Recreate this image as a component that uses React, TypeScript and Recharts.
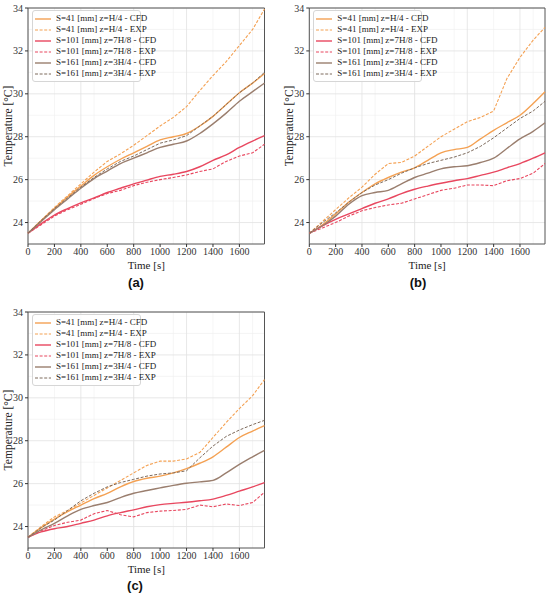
import React from 'react';
import { LineChart, Line, XAxis, YAxis, CartesianGrid, ReferenceArea, Legend } from 'recharts';

const TIME = [0, 100, 200, 300, 400, 500, 600, 700, 800, 900, 1000, 1100, 1200, 1300, 1400, 1500, 1600, 1700, 1790];

// Panel (a)
const A_S41_CFD = [23.5, 24.1, 24.65, 25.2, 25.7, 26.2, 26.6, 26.95, 27.25, 27.55, 27.85, 28.0, 28.15, 28.5, 28.95, 29.5, 30.05, 30.5, 30.95];
const A_S41_EXP = [23.5, 24.1, 24.7, 25.25, 25.8, 26.35, 26.85, 27.2, 27.6, 28.05, 28.5, 28.9, 29.4, 30.15, 30.85, 31.5, 32.25, 33.0, 33.95];
const A_S101_CFD = [23.5, 23.95, 24.35, 24.65, 24.92, 25.15, 25.4, 25.6, 25.8, 25.98, 26.15, 26.25, 26.38, 26.6, 26.9, 27.15, 27.5, 27.8, 28.05];
const A_S101_EXP = [23.5, 23.9, 24.3, 24.6, 24.85, 25.12, 25.35, 25.5, 25.72, 25.88, 26.0, 26.1, 26.22, 26.38, 26.5, 26.85, 27.1, 27.25, 27.65];
const A_S161_CFD = [23.5, 24.05, 24.6, 25.1, 25.6, 26.05, 26.4, 26.75, 27.0, 27.25, 27.5, 27.65, 27.8, 28.15, 28.6, 29.1, 29.65, 30.1, 30.5];
const A_S161_EXP = [23.5, 24.1, 24.65, 25.15, 25.65, 26.1, 26.5, 26.85, 27.1, 27.4, 27.7, 27.85, 28.05, 28.5, 28.95, 29.5, 30.05, 30.5, 31.0];

// Panel (b)
const B_S41_CFD = [23.5, 23.9, 24.4, 24.95, 25.4, 25.8, 26.1, 26.35, 26.55, 26.9, 27.25, 27.4, 27.5, 27.9, 28.3, 28.65, 29.0, 29.55, 30.1];
const B_S41_EXP = [23.5, 24.05, 24.6, 25.15, 25.65, 26.25, 26.75, 26.8, 27.1, 27.55, 28.0, 28.35, 28.7, 28.9, 29.2, 30.7, 31.7, 32.5, 33.1];
const B_S101_CFD = [23.5, 23.85, 24.15, 24.4, 24.65, 24.9, 25.1, 25.35, 25.55, 25.7, 25.83, 25.95, 26.05, 26.2, 26.35, 26.55, 26.75, 27.0, 27.25];
const B_S101_EXP = [23.5, 23.75, 24.0, 24.3, 24.55, 24.7, 24.82, 24.9, 25.1, 25.3, 25.5, 25.6, 25.75, 25.75, 25.72, 25.95, 26.05, 26.3, 26.75];
const B_S161_CFD = [23.5, 23.85, 24.3, 24.85, 25.25, 25.4, 25.5, 25.8, 26.1, 26.3, 26.5, 26.6, 26.65, 26.8, 27.0, 27.45, 27.9, 28.25, 28.65];
const B_S161_EXP = [23.5, 24.0, 24.45, 24.95, 25.4, 25.75, 26.0, 26.3, 26.55, 26.75, 26.9, 27.05, 27.25, 27.55, 27.95, 28.4, 28.85, 29.2, 29.65];

// Panel (c)
const C_S41_CFD = [23.5, 23.95, 24.35, 24.7, 25.0, 25.3, 25.55, 25.85, 26.1, 26.25, 26.35, 26.5, 26.7, 26.95, 27.25, 27.7, 28.15, 28.45, 28.7];
const C_S41_EXP = [23.5, 24.0, 24.45, 24.75, 25.1, 25.45, 25.8, 26.15, 26.5, 26.85, 27.05, 27.05, 27.15, 27.45, 28.15, 28.85, 29.5, 30.1, 30.85];
const C_S101_CFD = [23.5, 23.75, 23.9, 24.0, 24.15, 24.3, 24.5, 24.65, 24.78, 24.92, 25.02, 25.08, 25.13, 25.2, 25.28, 25.45, 25.65, 25.85, 26.05];
const C_S101_EXP = [23.5, 23.8, 24.05, 24.2, 24.3, 24.6, 24.75, 24.55, 24.45, 24.65, 24.72, 24.75, 24.8, 25.0, 24.92, 25.05, 24.98, 25.12, 25.6];
const C_S161_CFD = [23.5, 23.85, 24.15, 24.5, 24.8, 24.98, 25.12, 25.35, 25.55, 25.68, 25.8, 25.92, 26.02, 26.08, 26.15, 26.5, 26.9, 27.25, 27.55];
const C_S161_EXP = [23.5, 23.95, 24.3, 24.75, 25.2, 25.55, 25.85, 26.05, 26.2, 26.35, 26.45, 26.5, 26.6, 27.2, 27.75, 28.2, 28.5, 28.75, 28.95];

const X_TICKS = [0, 200, 400, 600, 800, 1000, 1200, 1400, 1600];
const X_GRID = [100, 200, 300, 400, 500, 600, 700, 800, 900, 1000, 1100, 1200, 1300, 1400, 1500, 1600, 1700];
const Y_TICKS = [24, 26, 28, 30, 32, 34];
const Y_GRID = [24, 25, 26, 27, 28, 29, 30, 31, 32, 33];
const SERIES_NAMES = [
  'S=41 [mm] z=H/4 - CFD',
  'S=41 [mm] z=H/4 - EXP',
  'S=101 [mm] z=7H/8 - CFD',
  'S=101 [mm] z=7H/8 - EXP',
  'S=161 [mm] z=3H/4 - CFD',
  'S=161 [mm] z=3H/4 - EXP',
];

const ORANGE = '#F4A153';
const PINK = '#E8475F';
const BROWN = '#9A7E6E';
const SERIF = '"Liberation Serif", "DejaVu Serif", serif';

const STYLES = [
  { key: 's41cfd', color: ORANGE, dash: undefined, width: 1.4 },
  { key: 's41exp', color: ORANGE, dash: '3 1.6', width: 1.1 },
  { key: 's101cfd', color: PINK, dash: undefined, width: 1.4 },
  { key: 's101exp', color: PINK, dash: '3 1.6', width: 1.1 },
  { key: 's161cfd', color: BROWN, dash: undefined, width: 1.4 },
  { key: 's161exp', color: '#7d6a5c', dash: '3 1.6', width: 1.0 },
];

function buildRows(series: number[][]) {
  return TIME.map((t, i) => {
    const row: Record<string, number> = { t };
    STYLES.forEach((s, k) => {
      row[s.key] = series[k][i];
    });
    return row;
  });
}

const PANELS = [
  { id: 'a', left: 0, top: 0, yAxisW: 28, rightM: 10.5, label: '(a)', labelX: 136, labelY: 284, data: buildRows([A_S41_CFD, A_S41_EXP, A_S101_CFD, A_S101_EXP, A_S161_CFD, A_S161_EXP]) },
  { id: 'b', left: 275, top: 0, yAxisW: 34.3, rightM: 5, label: '(b)', labelX: 418, labelY: 284, data: buildRows([B_S41_CFD, B_S41_EXP, B_S101_CFD, B_S101_EXP, B_S161_CFD, B_S161_EXP]) },
  { id: 'c', left: 0, top: 304, yAxisW: 28, rightM: 10.5, label: '(c)', labelX: 135, labelY: 587, data: buildRows([C_S41_CFD, C_S41_EXP, C_S101_CFD, C_S101_EXP, C_S161_CFD, C_S161_EXP]) },
];

const LegendContent = () => (
  <div
    style={{
      background: 'rgba(255,255,255,0.85)',
      border: '1px solid #d6d6d6',
      borderRadius: 3,
      padding: '2px 0 2px 2px',
      fontFamily: SERIF,
      fontSize: 9,
      color: '#222',
      lineHeight: '11px',
      width: 109,
      boxSizing: 'border-box',
    }}
  >
    {STYLES.map((s, i) => (
      <div key={s.key} style={{ display: 'flex', alignItems: 'center', height: 11, whiteSpace: 'nowrap' }}>
        <svg width={16} height={6} style={{ flex: 'none' }}>
          <line x1={0} y1={3} x2={16} y2={3} stroke={s.color} strokeWidth={s.width} strokeDasharray={s.dash} />
        </svg>
        <span style={{ marginLeft: 5 }}>{SERIES_NAMES[i]}</span>
      </div>
    ))}
  </div>
);

const TimeLabel = (props: any) => {
  const vb = props.viewBox || {};
  return (
    <text
      x={vb.x + vb.width / 2}
      y={vb.y + 24.5}
      textAnchor="middle"
      fontFamily={SERIF}
      fontSize={11}
      fill="#222"
    >
      Time [s]
    </text>
  );
};

function Panel({ p }: { p: (typeof PANELS)[number] }) {
  const H = 300;
  const topM = 8;
  const plotH = 236;
  const xAxisH = H - topM - plotH;
  return (
    <div style={{ position: 'absolute', left: p.left, top: p.top, width: 275, height: H }}>
      <LineChart width={275} height={H} data={p.data} margin={{ top: topM, right: p.rightM, left: 0, bottom: 0 }}>
        <CartesianGrid stroke="#efefef" strokeWidth={0.6} verticalValues={X_GRID} horizontalValues={Y_GRID} />
        <CartesianGrid stroke="#e2e2e2" strokeWidth={0.8} verticalValues={X_TICKS} horizontalValues={Y_TICKS} />
        <XAxis
          dataKey="t"
          type="number"
          domain={[0, 1790]}
          ticks={X_TICKS}
          height={xAxisH}
          axisLine={false}
          tickSize={3}
          tickMargin={1}
          tickLine={{ stroke: '#333' }}
          tick={{ fontFamily: SERIF, fontSize: 10, fill: '#333' }}
          label={<TimeLabel />}
        />
        <YAxis
          type="number"
          domain={[23, 34]}
          ticks={Y_TICKS}
          width={p.yAxisW}
          axisLine={false}
          tickSize={3}
          tickLine={{ stroke: '#333' }}
          tick={{ fontFamily: SERIF, fontSize: 10, fill: '#333' }}
          label={{
            value: 'Temperature [°C]',
            angle: -90,
            position: 'insideLeft',
            offset: p.yAxisW - 20,
            style: { fontFamily: SERIF, fontSize: 11.5, fill: '#222', textAnchor: 'middle' },
          }}
        />
        {STYLES.map((s, i) => (
          <Line
            key={s.key}
            dataKey={s.key}
            name={SERIES_NAMES[i]}
            type={s.dash ? 'linear' : 'monotone'}
            stroke={s.color}
            strokeWidth={s.width}
            strokeDasharray={s.dash}
            dot={false}
            activeDot={false}
            isAnimationActive={false}
          />
        ))}
        <ReferenceArea x1={0} x2={1790} y1={23} y2={34} fill="none" stroke="#555" strokeWidth={1} />
        <Legend
          layout="vertical"
          align="center"
          verticalAlign="middle"
          content={<LegendContent />}
          wrapperStyle={{ left: p.yAxisW + 4, top: 10, width: 111 }}
        />
      </LineChart>
      <div
        style={{
          position: 'absolute',
          left: p.labelX - p.left - 20,
          top: p.labelY - p.top - 9,
          width: 40,
          textAlign: 'center',
          fontFamily: '"Liberation Sans", "DejaVu Sans", sans-serif',
          fontWeight: 'bold',
          fontSize: 13,
          color: '#111',
        }}
      >
        {p.label}
      </div>
    </div>
  );
}

export default function App() {
  return (
    <div style={{ position: 'absolute', left: 0, top: 0, width: 550, height: 599, background: '#fff', overflow: 'hidden' }}>
      {PANELS.map((p) => (
        <Panel key={p.id} p={p} />
      ))}
    </div>
  );
}
